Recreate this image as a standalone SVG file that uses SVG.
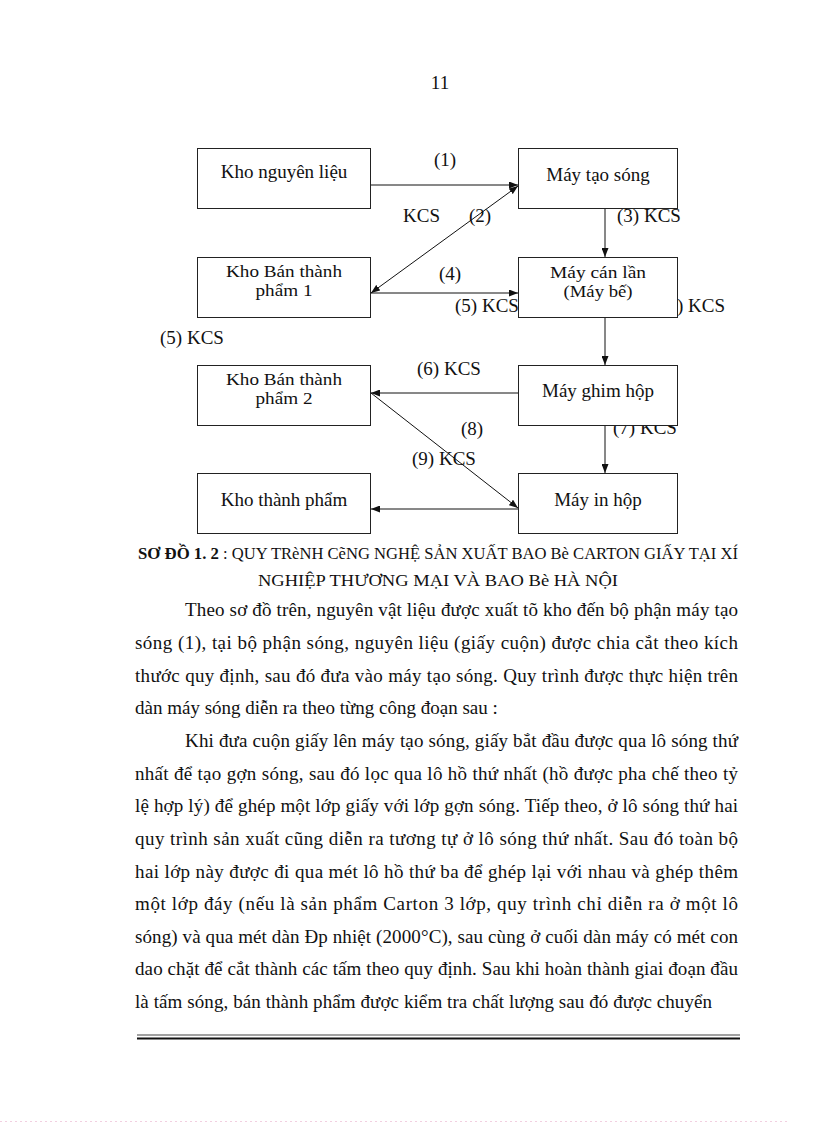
<svg xmlns="http://www.w3.org/2000/svg" width="816" height="1123" viewBox="0 0 816 1123">
<style>
  text { font-family: "Liberation Serif", "Times New Roman", serif; fill: #111; }
  .lbl { font-size: 19px; }
  .box rect { fill: #fff; stroke: #222; stroke-width: 1; }
  .box text { font-size: 19px; text-anchor: middle; }
  .box text.two { font-size: 17px; }
  .conn line { stroke: #111; stroke-width: 1; fill: none; }
  .body { font-size: 19px; }
  .cap { font-size: 17px; }
</style>
<defs>
  <marker id="ah" viewBox="0 0 10 10" refX="10" refY="5" markerWidth="9" markerHeight="7" markerUnits="userSpaceOnUse" orient="auto-start-reverse" preserveAspectRatio="none">
    <path d="M0,0 L10,5 L0,10 Z" fill="#111"/>
  </marker>
</defs>
<rect x="0" y="0" width="816" height="1123" fill="#fff"/>

<text x="440" y="89" class="lbl" text-anchor="middle">11</text>

<g id="connectors" class="conn">
  <line x1="370" y1="185" x2="518" y2="185" marker-end="url(#ah)"/>
  <line x1="518" y1="186" x2="371" y2="293" marker-start="url(#ah)" marker-end="url(#ah)"/>
  <line x1="370" y1="293" x2="518" y2="293" marker-end="url(#ah)"/>
  <line x1="605" y1="208" x2="605" y2="257" marker-end="url(#ah)"/>
  <line x1="605" y1="317" x2="605" y2="365" marker-end="url(#ah)"/>
  <line x1="518" y1="393" x2="371" y2="393" marker-end="url(#ah)"/>
  <line x1="371" y1="393" x2="518" y2="508" marker-end="url(#ah)"/>
  <line x1="605" y1="425" x2="605" y2="473" marker-end="url(#ah)"/>
  <line x1="518" y1="509" x2="371" y2="509" marker-end="url(#ah)"/>
</g>

<g id="labels" class="lbl">
  <text x="434" y="166">(1)</text>
  <text x="403" y="222">KCS</text>
  <text x="469" y="222">(2)</text>
  <text x="617" y="222">(3) KCS</text>
  <text x="439" y="280">(4)</text>
  <text x="455" y="312">(5) KCS</text>
  <text x="677" y="312">) KCS</text>
  <text x="160" y="344">(5) KCS</text>
  <text x="417" y="375">(6) KCS</text>
  <text x="461" y="435">(8)</text>
  <text x="613" y="434">(7) KCS</text>
  <text x="412" y="465">(9) KCS</text>
</g>

<g id="kho-nguyen-lieu" class="box">
  <rect x="197.5" y="148.5" width="173" height="60"/>
  <text x="284" y="178">Kho nguyên liệu</text>
</g>
<g id="may-tao-song" class="box">
  <rect x="518.5" y="148.5" width="159" height="60"/>
  <text x="598" y="181">Máy tạo sóng</text>
</g>
<g id="kho-ban-thanh-pham-1" class="box">
  <rect x="197.5" y="257.5" width="173" height="60"/>
  <text class="two" x="284" y="277" textLength="116" lengthAdjust="spacingAndGlyphs">Kho Bán thành</text>
  <text class="two" x="284" y="296" textLength="57" lengthAdjust="spacingAndGlyphs">phẩm 1</text>
</g>
<g id="may-can-lan" class="box">
  <rect x="518.5" y="257.5" width="159" height="60"/>
  <text class="two" x="598" y="278" textLength="96" lengthAdjust="spacingAndGlyphs">Máy cán lần</text>
  <text class="two" x="598" y="297" textLength="69" lengthAdjust="spacingAndGlyphs">(Máy bế)</text>
</g>
<g id="kho-ban-thanh-pham-2" class="box">
  <rect x="197.5" y="365.5" width="173" height="60"/>
  <text class="two" x="284" y="385" textLength="116" lengthAdjust="spacingAndGlyphs">Kho Bán thành</text>
  <text class="two" x="284" y="404" textLength="57" lengthAdjust="spacingAndGlyphs">phẩm 2</text>
</g>
<g id="may-ghim-hop" class="box">
  <rect x="518.5" y="365.5" width="159" height="60"/>
  <text x="598" y="397">Máy ghim hộp</text>
</g>
<g id="kho-thanh-pham" class="box">
  <rect x="197.5" y="473.5" width="173" height="60"/>
  <text x="284" y="506">Kho thành phẩm</text>
</g>
<g id="may-in-hop" class="box">
  <rect x="518.5" y="473.5" width="159" height="60"/>
  <text x="598" y="506">Máy in hộp</text>
</g>

<g id="caption" class="cap">
  <text x="138" y="559" font-weight="bold" textLength="81" lengthAdjust="spacingAndGlyphs">SƠ ĐỒ 1. 2</text>
  <text x="223" y="559" textLength="515" lengthAdjust="spacingAndGlyphs" font-size="16">: QUY TRèNH CẽNG NGHỆ SẢN XUẤT BAO Bè CARTON GIẤY TẠI XÍ</text>
  <text x="258" y="586" textLength="360" lengthAdjust="spacingAndGlyphs" font-size="16">NGHIỆP THƯƠNG MẠI VÀ BAO Bè HÀ NỘI</text>
</g>

<g id="body-text" class="body">
  <text x="185" y="616" textLength="553" lengthAdjust="spacing">Theo sơ đồ trên, nguyên vật liệu  được xuất tõ kho đến bộ phận máy tạo</text>
  <text x="135" y="649" textLength="603" lengthAdjust="spacing">sóng (1), tại bộ phận sóng, nguyên liệu (giấy cuộn) được chia cắt theo kích</text>
  <text x="135" y="682" textLength="603" lengthAdjust="spacing">thước quy định, sau đó đưa vào máy tạo sóng. Quy trình được thực hiện trên</text>
  <text x="135" y="714">dàn máy sóng diễn ra theo từng công đoạn sau :</text>
  <text x="185" y="747" textLength="553" lengthAdjust="spacing">Khi đưa cuộn giấy lên máy tạo sóng, giấy bắt đầu được qua lô sóng thứ</text>
  <text x="135" y="780" textLength="603" lengthAdjust="spacing">nhất để tạo gợn sóng, sau đó lọc qua lô hồ thứ nhất (hồ được pha chế theo tỷ</text>
  <text x="135" y="812" textLength="603" lengthAdjust="spacing">lệ hợp lý) để ghép một lớp giấy với lớp gợn sóng. Tiếp theo, ở lô sóng thứ hai</text>
  <text x="135" y="845" textLength="603" lengthAdjust="spacing">quy trình sản xuất cũng diễn ra tương tự ở lô sóng thứ nhất. Sau đó toàn bộ</text>
  <text x="135" y="878" textLength="603" lengthAdjust="spacing">hai lớp này được đi qua mét lô hồ thứ ba để ghép lại với nhau và ghép thêm</text>
  <text x="135" y="910" textLength="603" lengthAdjust="spacing">một lớp đáy (nếu là sản phẩm Carton 3 lớp, quy trình chỉ diễn ra ở một lô</text>
  <text x="135" y="943" textLength="603" lengthAdjust="spacing">sóng) và qua mét dàn Ðp nhiệt (2000°C), sau cùng ở cuối dàn máy có mét con</text>
  <text x="135" y="975" textLength="603" lengthAdjust="spacing">dao chặt để cắt thành các tấm theo quy định. Sau khi hoàn thành giai đoạn đầu</text>
  <text x="135" y="1008" textLength="577" lengthAdjust="spacing">là tấm sóng, bán thành phẩm được kiểm tra chất lượng sau đó được chuyển</text>
</g>

<g id="footer-rule">
  <line x1="137" y1="1035" x2="740" y2="1035" stroke="#444" stroke-width="1.2"/>
  <line x1="137" y1="1038.5" x2="740" y2="1038.5" stroke="#111" stroke-width="2"/>
  <line x1="0" y1="1121.5" x2="790" y2="1121.5" stroke="#f2cfe0" stroke-width="1" stroke-dasharray="2 3"/>
</g>
</svg>
